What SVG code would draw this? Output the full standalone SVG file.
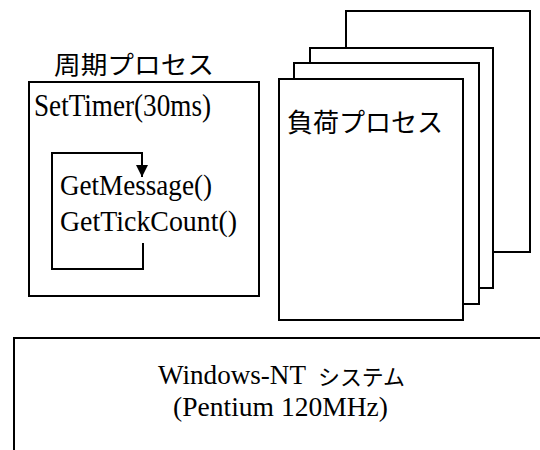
<svg xmlns="http://www.w3.org/2000/svg" width="540" height="450" viewBox="0 0 540 450">
<defs>
<style>
.box{fill:#fff;stroke:#000;stroke-width:2}
.ln{fill:none;stroke:#000;stroke-width:2}
.jp{font-family:"Noto Sans CJK JP","Noto Sans CJK SC",sans-serif;fill:#000}
.lat{font-family:"Liberation Serif","DejaVu Serif",serif;fill:#000}
</style>
<marker id="ah" viewBox="0 0 10 10" refX="10" refY="5" markerWidth="6" markerHeight="6" orient="auto" markerUnits="strokeWidth">
<path d="M0,0 L10,5 L0,10 Z" fill="#000"/>
</marker>
</defs>
<rect width="540" height="450" fill="#fff"/>
<g id="load-process-4"><rect class="box" x="346" y="11" width="184" height="241"/></g>
<g id="load-process-3"><rect class="box" x="310" y="48" width="183" height="240"/></g>
<g id="load-process-2"><rect class="box" x="294" y="63" width="185" height="241"/></g>
<g id="load-process"><rect class="box" x="279" y="79" width="184" height="241"/>
<text class="jp" x="287" y="132" font-size="26" textLength="156" lengthAdjust="spacingAndGlyphs">負荷プロセス</text></g>
<g id="periodic-process">
<text class="jp" x="54" y="74" font-size="25" textLength="160" lengthAdjust="spacingAndGlyphs">周期プロセス</text>
<rect class="box" x="29" y="82" width="230" height="214"/>
<text class="lat" x="34" y="116" font-size="32" textLength="177" lengthAdjust="spacingAndGlyphs">SetTimer(30ms)</text>
<text class="lat" x="60" y="195" font-size="30" textLength="152" lengthAdjust="spacingAndGlyphs">GetMessage()</text>
<text class="lat" x="60" y="231" font-size="30" textLength="177" lengthAdjust="spacingAndGlyphs">GetTickCount()</text>
</g>
<g id="connectors">
<path class="ln" d="M143,243 V269 H52 V153 H142 V177" marker-end="url(#ah)"/>
</g>
<g id="windows-nt-system">
<path class="ln" d="M14,450 V338 H540"/>
<text class="lat" x="158" y="384" font-size="28" textLength="148" lengthAdjust="spacingAndGlyphs">Windows-NT</text>
<text class="jp" x="318" y="385" font-size="22" textLength="87" lengthAdjust="spacingAndGlyphs">システム</text>
<text class="lat" x="173" y="416" font-size="28" textLength="215" lengthAdjust="spacingAndGlyphs">(Pentium 120MHz)</text>
</g>
</svg>
